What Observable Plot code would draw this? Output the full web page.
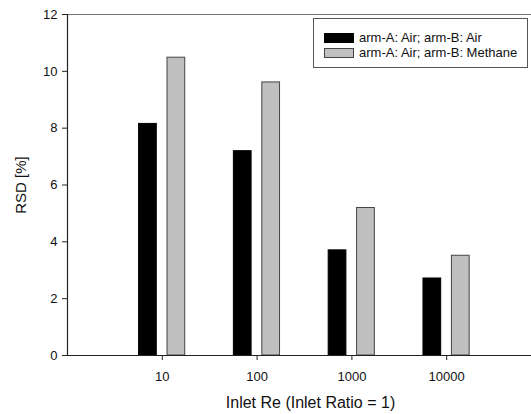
<!DOCTYPE html>
<html>
<head>
<meta charset="utf-8">
<script src="https://cdn.jsdelivr.net/npm/d3@7"></script>
<script src="https://cdn.jsdelivr.net/npm/@observablehq/plot@0.6"></script>
<style>
  html, body { margin: 0; padding: 0; background: #fff; }
  #wrap { position: relative; width: 531px; height: 414px; font-family: Arial, "Liberation Sans", sans-serif; }
  #legend { position: absolute; left: 313px; top: 18px; width: 215px; height: 50px; border: 1px solid #555; background: #fff; box-sizing: border-box; font-size: 13px; color: #111; }
  .item { position: absolute; left: 10px; height: 11px; display: flex; align-items: center; white-space: nowrap; }
  .sw { width: 30px; height: 10px; box-sizing: border-box; margin-right: 5px; }
</style>
</head>
<body>
<div id="wrap"></div>
<script>
const categories = ["10", "100", "1000", "10000"];
const seriesNames = ["arm-A: Air; arm-B: Air", "arm-A: Air; arm-B: Methane"];
const airAir = [8.15, 7.19, 3.70, 2.71];
const airMethane = [10.48, 9.61, 5.19, 3.51];
const yTicks = [0, 2, 4, 6, 8, 10, 12];

const fills = ["#000000", "#c0c0c0"];
const strokes = ["#000000", "#444444"];
const offsets = [[-0.245, -0.058], [0.055, 0.242]];

const rows = [];
[airAir, airMethane].forEach((vals, s) => {
  vals.forEach((v, i) => {
    rows.push({pos: i + 1, x1: i + 1 + offsets[s][0], x2: i + 1 + offsets[s][1], v, s});
  });
});

const chart = Plot.plot({
  width: 531,
  height: 414,
  marginLeft: 67,
  marginRight: -10,
  marginTop: 14,
  marginBottom: 59,
  style: {fontFamily: "Arial, 'Liberation Sans', sans-serif", fontSize: "13px", color: "#111", background: "#fff"},
  x: {domain: [0, 5]},
  y: {domain: [0, 12]},
  marks: [
    Plot.rectY(rows, {x1: "x1", x2: "x2", y1: 0, y2: "v", fill: d => fills[d.s], stroke: d => strokes[d.s], strokeWidth: 1}),
    Plot.ruleY([12], {stroke: "#777", strokeWidth: 1.2}),
    Plot.ruleX([0], {stroke: "#222", strokeWidth: 1.2}),
    Plot.ruleY([0], {stroke: "#222", strokeWidth: 1.2}),
    Plot.axisY({ticks: yTicks, tickSize: 5, tickPadding: 5, stroke: "#222", fontSize: 13, label: "RSD [%]", labelAnchor: "center", labelArrow: "none", labelOffset: 52}),
    Plot.axisX({ticks: [1, 2, 3, 4], tickFormat: d => categories[d - 1], tickSize: 5, tickPadding: 11, stroke: "#222", fontSize: 13, label: "Inlet Re (Inlet Ratio = 1)", labelAnchor: "center", labelArrow: "none", labelOffset: 52})
  ]
});
chart.querySelectorAll("g").forEach(g => {
  const a = g.getAttribute("aria-label") || "";
  if (a === "x-axis label") { g.querySelectorAll("text").forEach(t => { t.style.fontSize = "16px"; t.setAttribute("dx", "6"); }); }
  if (a === "y-axis label") { g.querySelectorAll("text").forEach(t => { t.style.fontSize = "15px"; }); }
});
const wrap = document.getElementById("wrap");
wrap.appendChild(chart);

const legend = document.createElement("div");
legend.id = "legend";
seriesNames.forEach((name, s) => {
  const item = document.createElement("div");
  item.className = "item";
  item.style.top = (13 + s * 15) + "px";
  const sw = document.createElement("div");
  sw.className = "sw";
  sw.style.background = fills[s];
  sw.style.border = "1px solid " + strokes[s];
  const t = document.createElement("span");
  t.textContent = name;
  item.appendChild(sw);
  item.appendChild(t);
  legend.appendChild(item);
});
wrap.appendChild(legend);
</script>
</body>
</html>
